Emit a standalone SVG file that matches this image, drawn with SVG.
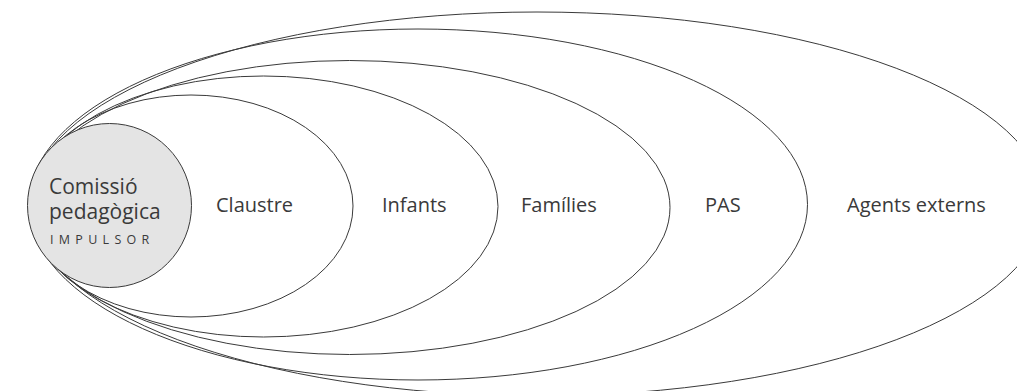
<svg xmlns="http://www.w3.org/2000/svg" width="1017" height="391" viewBox="0 0 1017 391">
  <style>
    .ring { fill: none; stroke: #3a3a3a; stroke-width: 1; }
    .core { fill: #e4e4e4; stroke: #3a3a3a; stroke-width: 1; }
    .label { font-family: "Open Sans", "Liberation Sans", sans-serif; font-size: 20px; fill: #3a3a3a; }
    .core-label { font-family: "Open Sans", "Liberation Sans", sans-serif; font-size: 21px; fill: #3a3a3a; }
    .tag { font-family: "Open Sans", "Liberation Sans", sans-serif; font-size: 12.5px; fill: #3a3a3a; letter-spacing: 5.3px; }
  </style>
  <rect width="1017" height="391" fill="#ffffff"/>

  <!-- outermost rings first so inner ones sit on top -->
  <g id="agents-externs">
    <ellipse class="ring" cx="537" cy="204" rx="508" ry="192"/>
    <text class="label" x="847" y="212">Agents externs</text>
  </g>
  <g id="pas">
    <ellipse class="ring" cx="418" cy="204.5" rx="389.5" ry="175.5"/>
    <text class="label" x="705" y="212">PAS</text>
  </g>
  <g id="families">
    <ellipse class="ring" cx="349.5" cy="207.5" rx="320.5" ry="147"/>
    <text class="label" x="521" y="212">Famílies</text>
  </g>
  <g id="infants">
    <ellipse class="ring" cx="263.5" cy="206.5" rx="234.5" ry="130.5"/>
    <text class="label" x="382" y="212">Infants</text>
  </g>
  <g id="claustre">
    <ellipse class="ring" cx="191" cy="206" rx="162" ry="111"/>
    <text class="label" x="216" y="212">Claustre</text>
  </g>
  <g id="comissio-pedagogica">
    <circle class="core" cx="109.5" cy="205.5" r="82"/>
    <text class="core-label" x="49" y="194">Comissió</text>
    <text class="core-label" x="49" y="219">pedagògica</text>
    <text class="tag" x="50" y="244">IMPULSOR</text>
  </g>

  <!-- no connectors: the rings themselves express the nesting -->
  <g id="connectors"/>
</svg>
